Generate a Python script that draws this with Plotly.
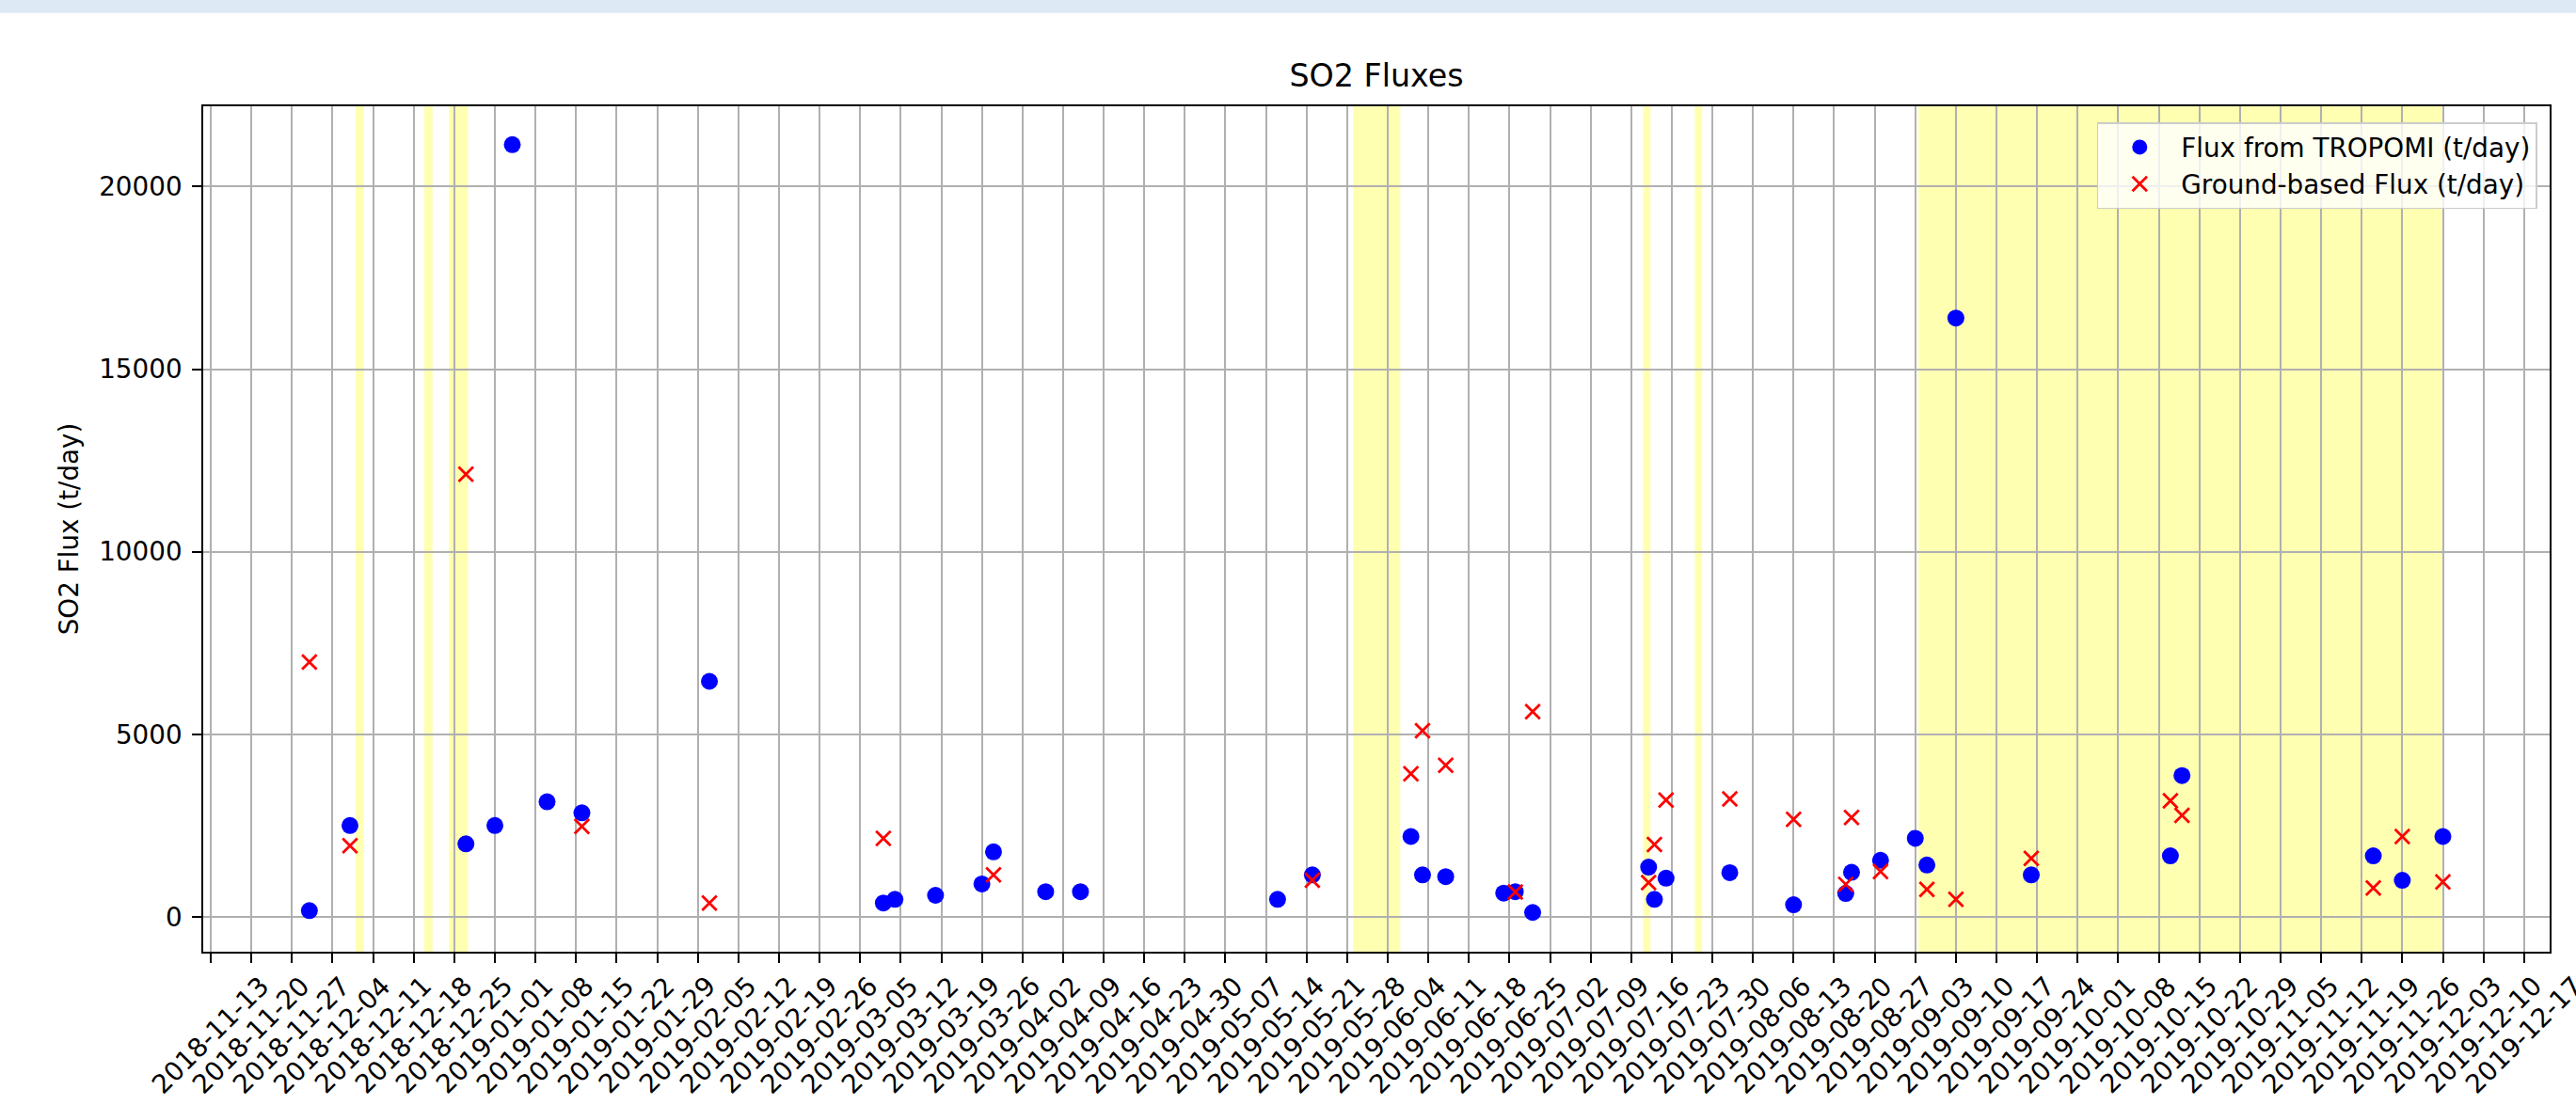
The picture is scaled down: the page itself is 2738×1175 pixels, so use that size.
import plotly.graph_objects as go

# ---------------- data ----------------
tropomi_dates = [
    "2018-11-30", "2018-12-07", "2018-12-27", "2019-01-01", "2019-01-04", "2019-01-10",
    "2019-01-16", "2019-02-07", "2019-03-09", "2019-03-11", "2019-03-18", "2019-03-26",
    "2019-03-28", "2019-04-06", "2019-04-12", "2019-05-16", "2019-05-22", "2019-06-08",
    "2019-06-10", "2019-06-14", "2019-06-24", "2019-06-26", "2019-06-29", "2019-07-19",
    "2019-07-20", "2019-07-22", "2019-08-02", "2019-08-13", "2019-08-22", "2019-08-23",
    "2019-08-28", "2019-09-03", "2019-09-05", "2019-09-10", "2019-09-23", "2019-10-17",
    "2019-10-19", "2019-11-21", "2019-11-26", "2019-12-03",
]
tropomi_flux = [
    170, 2500, 2000, 2500, 21150, 3150,
    2850, 6450, 380, 480, 590, 900,
    1780, 690, 690, 480, 1150, 2200,
    1150, 1100, 650, 690, 120, 1360,
    480, 1060, 1210, 330, 640, 1220,
    1550, 2150, 1420, 16400, 1150, 1670,
    3870, 1670, 1000, 2200,
]

ground_dates = [
    "2018-11-30", "2018-12-07", "2018-12-27", "2019-01-16", "2019-02-07", "2019-03-09",
    "2019-03-28", "2019-05-22", "2019-06-08", "2019-06-10", "2019-06-14", "2019-06-26",
    "2019-06-29", "2019-07-19", "2019-07-20", "2019-07-22", "2019-08-02", "2019-08-13",
    "2019-08-22", "2019-08-23", "2019-08-28", "2019-09-05", "2019-09-10", "2019-09-23",
    "2019-10-17", "2019-10-19", "2019-11-21", "2019-11-26", "2019-12-03",
]
ground_flux = [
    6980, 1950, 12120, 2480, 380, 2150,
    1150, 1000, 3920, 5100, 4150, 680,
    5620, 940, 1980, 3200, 3230, 2670,
    890, 2720, 1240, 750, 480, 1600,
    3180, 2780, 790, 2200, 960,
]

# highlighted periods (yellow spans)
span_starts = [
    "2018-12-07 23:00", "2018-12-19 19:00", "2018-12-24 01:00", "2019-05-29 01:00",
    "2019-07-18 01:00", "2019-07-26 23:00", "2019-09-03 13:00",
]
span_ends = [
    "2018-12-09 10:00", "2018-12-21 06:00", "2018-12-27 09:00", "2019-06-06 04:00",
    "2019-07-19 08:00", "2019-07-28 06:00", "2019-12-02 20:00",
]

x_tick_labels = [
    "2018-11-13", "2018-11-20", "2018-11-27", "2018-12-04", "2018-12-11", "2018-12-18",
    "2018-12-25", "2019-01-01", "2019-01-08", "2019-01-15", "2019-01-22", "2019-01-29",
    "2019-02-05", "2019-02-12", "2019-02-19", "2019-02-26", "2019-03-05", "2019-03-12",
    "2019-03-19", "2019-03-26", "2019-04-02", "2019-04-09", "2019-04-16", "2019-04-23",
    "2019-04-30", "2019-05-07", "2019-05-14", "2019-05-21", "2019-05-28", "2019-06-04",
    "2019-06-11", "2019-06-18", "2019-06-25", "2019-07-02", "2019-07-09", "2019-07-16",
    "2019-07-23", "2019-07-30", "2019-08-06", "2019-08-13", "2019-08-20", "2019-08-27",
    "2019-09-03", "2019-09-10", "2019-09-17", "2019-09-24", "2019-10-01", "2019-10-08",
    "2019-10-15", "2019-10-22", "2019-10-29", "2019-11-05", "2019-11-12", "2019-11-19",
    "2019-11-26", "2019-12-03", "2019-12-10", "2019-12-17",
]
y_tick_values = [0, 5000, 10000, 15000, 20000]

x_range = ["2018-11-11 16:30", "2019-12-21 10:00"]
y_range = [-955, 22200]

# ---------------- figure ----------------
FONT = "DejaVu Sans"
TXT_PX = 27.8     # 10 pt at 200 dpi
TITLE_PX = 33.3   # 12 pt at 200 dpi
LW = 2.2          # 0.8 pt at 200 dpi

fig = go.Figure()

fig.add_trace(go.Scatter(
    x=tropomi_dates, y=tropomi_flux, mode="markers",
    name="Flux from TROPOMI (t/day)",
    marker=dict(color="blue", size=18, symbol="circle", line=dict(width=0)),
))
fig.add_trace(go.Scatter(
    x=ground_dates, y=ground_flux, mode="markers",
    name="Ground-based Flux (t/day)",
    marker=dict(color="red", size=15.5, symbol="x-thin", line=dict(color="red", width=2.8)),
))

for s, e in zip(span_starts, span_ends):
    fig.add_vrect(x0=s, x1=e, fillcolor="rgba(255,255,0,0.3)", line_width=0, layer="below")

# top light-blue strip of the page
fig.add_shape(type="rect", xref="paper", yref="paper",
              x0=-0.1, x1=1.1, y0=1.1105, y1=1.2,
              fillcolor="rgb(221,233,245)", line_width=0, layer="above")

# x tick labels: centred on the tick, rotated 45 degrees (matplotlib style)
annotations = [
    dict(x=d, y=0, xref="x", yref="paper", text=d, showarrow=False,
         textangle=-45, xanchor="center", yanchor="top", yshift=-17,
         font=dict(family=FONT, size=TXT_PX, color="black"))
    for d in x_tick_labels
]

fig.update_layout(
    width=2738, height=1175,
    margin=dict(l=216, r=28, t=113, b=163, autoexpand=False),
    paper_bgcolor="white", plot_bgcolor="white",
    font=dict(family=FONT, size=TXT_PX, color="black"),
    title=dict(text="SO2 Fluxes", x=0.5, xref="paper", xanchor="center",
               y=0.9217, yref="container", yanchor="bottom",
               font=dict(family=FONT, size=TITLE_PX, color="black")),
    showlegend=True,
    legend=dict(x=0.9947, y=0.9807, xanchor="right", yanchor="top",
                bgcolor="rgba(255,255,255,0.8)", bordercolor="#cccccc", borderwidth=1.5,
                font=dict(family=FONT, size=TXT_PX, color="black"),
                itemwidth=78),
    annotations=annotations,
)

fig.update_xaxes(
    type="date", range=x_range, automargin=False,
    tickmode="array", tickvals=x_tick_labels, showticklabels=False,
    ticks="outside", ticklen=9.7, tickwidth=LW, tickcolor="black",
    showline=True, linecolor="black", linewidth=LW, mirror=True,
    showgrid=True, gridcolor="#b0b0b0", gridwidth=LW,
    zeroline=False,
)
fig.update_yaxes(
    range=y_range, automargin=False,
    tickmode="array", tickvals=y_tick_values,
    ticktext=[str(v) for v in y_tick_values],
    ticks="outside", ticklen=9.7, tickwidth=LW, tickcolor="black",
    ticklabelstandoff=5,
    tickfont=dict(family=FONT, size=TXT_PX, color="black"),
    showline=True, linecolor="black", linewidth=LW, mirror=True,
    showgrid=True, gridcolor="#b0b0b0", gridwidth=LW,
    zeroline=False,
    title=dict(text="SO2 Flux (t/day)", standoff=13,
               font=dict(family=FONT, size=TXT_PX, color="black")),
)

fig.write_html(
    "out.html",
    config={"displayModeBar": False},
    post_script="document.body.style.margin='0';document.body.style.overflow='hidden';",
)
